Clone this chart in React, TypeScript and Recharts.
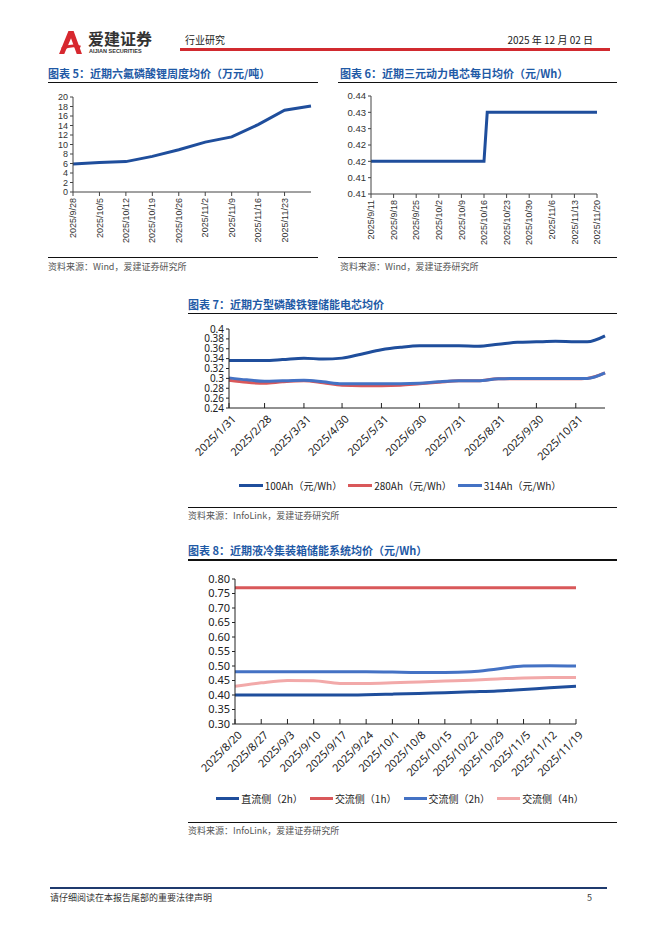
import React from 'react';
import { LineChart, Line, XAxis, YAxis, Legend } from 'recharts';

const CJK = '"Noto Sans CJK SC", "Noto Sans", sans-serif';
const ARIAL = '"Liberation Sans", Arial, sans-serif';
const NOTO = '"Noto Sans", "Noto Sans CJK SC", sans-serif';

// ---------- Chart 5: 六氟磷酸锂周度均价 ----------
const c5Dates = ['2025/9/28', '2025/10/5', '2025/10/12', '2025/10/19', '2025/10/26', '2025/11/2', '2025/11/9', '2025/11/16', '2025/11/23', '2025/11/30'];
const c5Values = [5.9, 6.2, 6.4, 7.5, 8.9, 10.5, 11.6, 14.2, 17.2, 18.1];
const c5TickDates = ['2025/9/28', '2025/10/5', '2025/10/12', '2025/10/19', '2025/10/26', '2025/11/2', '2025/11/9', '2025/11/16', '2025/11/23'];
const c5YTicks = [0, 2, 4, 6, 8, 10, 12, 14, 16, 18, 20];

// ---------- Chart 6: 三元动力电芯每日均价 ----------
const c6Dates = ['2025/9/11', '2025/9/18', '2025/9/25', '2025/10/2', '2025/10/9', '2025/10/16', '2025/10/17', '2025/10/23', '2025/10/30', '2025/11/6', '2025/11/13', '2025/11/20'];
const c6Values = [0.42, 0.42, 0.42, 0.42, 0.42, 0.42, 0.435, 0.435, 0.435, 0.435, 0.435, 0.435];
const c6TickDates = ['2025/9/11', '2025/9/18', '2025/9/25', '2025/10/2', '2025/10/9', '2025/10/16', '2025/10/23', '2025/10/30', '2025/11/6', '2025/11/13', '2025/11/20'];
const c6YTicks = [0.41, 0.415, 0.42, 0.425, 0.43, 0.435, 0.44];
const c6YLabels = ['0.41', '0.41', '0.42', '0.42', '0.43', '0.43', '0.44'];

// ---------- Chart 7: 方型磷酸铁锂储能电芯均价 ----------
const c7Dates = ['2025/1/31', '2025/2/14', '2025/2/28', '2025/3/14', '2025/3/31', '2025/4/15', '2025/4/30', '2025/5/15', '2025/5/31', '2025/6/15', '2025/6/30', '2025/7/15', '2025/7/31', '2025/8/15', '2025/8/31', '2025/9/15', '2025/9/30', '2025/10/15', '2025/10/31', '2025/11/9', '2025/11/23'];
const c7Ah100 = [0.336, 0.336, 0.336, 0.338, 0.341, 0.339, 0.341, 0.349, 0.358, 0.363, 0.366, 0.366, 0.366, 0.365, 0.369, 0.373, 0.374, 0.375, 0.374, 0.374, 0.386];
const c7Ah280 = [0.296, 0.292, 0.290, 0.293, 0.295, 0.291, 0.286, 0.285, 0.285, 0.286, 0.289, 0.292, 0.295, 0.295, 0.299, 0.299, 0.299, 0.299, 0.299, 0.300, 0.311];
const c7Ah314 = [0.301, 0.297, 0.294, 0.295, 0.296, 0.293, 0.289, 0.289, 0.289, 0.289, 0.290, 0.293, 0.295, 0.295, 0.299, 0.300, 0.300, 0.300, 0.300, 0.300, 0.311];
const c7TickDates = ['2025/1/31', '2025/2/28', '2025/3/31', '2025/4/30', '2025/5/31', '2025/6/30', '2025/7/31', '2025/8/31', '2025/9/30', '2025/10/31'];
const c7YTicks = [0.24, 0.26, 0.28, 0.3, 0.32, 0.34, 0.36, 0.38, 0.4];
const c7Names = ['100Ah（元/Wh）', '280Ah（元/Wh）', '314Ah（元/Wh）'];

// ---------- Chart 8: 液冷集装箱储能系统均价 ----------
const c8Dates = ['2025/8/20', '2025/8/27', '2025/9/3', '2025/9/10', '2025/9/17', '2025/9/24', '2025/10/1', '2025/10/8', '2025/10/15', '2025/10/22', '2025/10/29', '2025/11/5', '2025/11/12', '2025/11/19'];
const c8DC2h = [0.40, 0.40, 0.40, 0.40, 0.40, 0.401, 0.403, 0.405, 0.408, 0.411, 0.414, 0.419, 0.425, 0.43];
const c8AC1h = [0.77, 0.77, 0.77, 0.77, 0.77, 0.77, 0.77, 0.77, 0.77, 0.77, 0.77, 0.77, 0.77, 0.77];
const c8AC2h = [0.48, 0.48, 0.48, 0.48, 0.48, 0.48, 0.479, 0.478, 0.478, 0.48, 0.49, 0.50, 0.501, 0.50];
const c8AC4h = [0.43, 0.442, 0.45, 0.449, 0.44, 0.44, 0.442, 0.445, 0.448, 0.451, 0.455, 0.459, 0.46, 0.46];
const c8YTicks = [0.3, 0.35, 0.4, 0.45, 0.5, 0.55, 0.6, 0.65, 0.7, 0.75, 0.8];
const c8Names = ['直流侧（2h）', '交流侧（1h）', '交流侧（2h）', '交流侧（4h）'];

const toDay = (s: string) => {
  const [y, m, d] = s.split('/').map(Number);
  return Date.UTC(y, m - 1, d) / 86400000;
};

const c5Data = c5Dates.map((d, i) => ({ t: toDay(d), v: c5Values[i] }));
const c6Data = c6Dates.map((d, i) => ({ t: toDay(d), v: c6Values[i] }));
const c7Data = c7Dates.map((d, i) => ({ t: toDay(d), a: c7Ah100[i], b: c7Ah280[i], c: c7Ah314[i] }));
const c8Data = c8Dates.map((d, i) => ({ d, a: c8DC2h[i], b: c8AC1h[i], c: c8AC2h[i], e: c8AC4h[i] }));

const DARK = '#1f4e9c';
const RED = '#d9585a';
const MID = '#4472c4';
const PINK = '#f2a9a9';
const TITLE = '#1f5aa6';

const VertTick = (props: any) => {
  const { x, y, payload, labels, ticks } = props;
  const idx = ticks.indexOf(payload.value);
  const label = idx >= 0 ? labels[idx] : '';
  return (
    <text x={x} y={y} transform={`rotate(-90, ${x}, ${y})`} textAnchor="end" dy="0.35em"
      fontSize={9} fill="#333" fontFamily={ARIAL}>{label}</text>
  );
};

const SlantTick = (props: any) => {
  const { x, y, payload, labelOf } = props;
  const label = labelOf(payload.value);
  const tx = x + 5;
  const ty = y + 9;
  return (
    <g>
      <line x1={x} y1={y} x2={x} y2={y - 5} stroke="#222" strokeWidth={1} />
      <text x={tx} y={ty} transform={`rotate(-45, ${tx}, ${ty})`} textAnchor="end" dy="0.35em"
        fontSize={11} fill="#222" fontFamily={NOTO}>{label}</text>
    </g>
  );
};

const makeLegend = (order: string[], lineW: number, gap: number) => (props: any) => {
  const items = [...(props.payload || [])].sort((p: any, q: any) => order.indexOf(p.value) - order.indexOf(q.value));
  return (
    <div style={{ display: 'flex', justifyContent: 'center', alignItems: 'center', gap }}>
      {items.map((p: any, i: number) => (
        <div key={i} style={{ display: 'flex', alignItems: 'center' }}>
          <span style={{ display: 'inline-block', width: lineW, height: 3, background: p.color, marginRight: 2 }} />
          <span style={{ fontSize: 10, fontFamily: CJK, color: '#222', whiteSpace: 'nowrap' }}>{p.value}</span>
        </div>
      ))}
    </div>
  );
};
const Legend7 = makeLegend(c7Names, 24, 6);
const Legend8 = makeLegend(c8Names, 23, 7);

const Txt = ({ x, y, size, color, weight, children, right, family }: any) => (
  <div style={{
    position: 'absolute', top: y, left: right ? undefined : x, right: right ? 662 - x : undefined,
    transform: 'translateY(-50%)', fontSize: size, lineHeight: 1, color: color || '#222',
    fontWeight: weight || 400, whiteSpace: 'nowrap', fontFamily: family || CJK,
  }}>{children}</div>
);

const HLine = ({ x1, x2, y, color, w }: any) => (
  <div style={{ position: 'absolute', left: x1, top: y - (w || 1) / 2, width: x2 - x1, height: w || 1, background: color || '#000' }} />
);

const c5TickDays = c5TickDates.map(toDay);
const c6TickDays = c6TickDates.map(toDay);
const c7TickDays = c7TickDates.map(toDay);
const fmt2 = (v: number) => String(+v.toFixed(2));

export default function App() {
  return (
    <div style={{ position: 'absolute', left: 0, top: 0, width: 662, height: 936, background: '#fff', overflow: 'hidden', fontFamily: CJK }}>
      {/* Header */}
      <svg style={{ position: 'absolute', left: 57, top: 30 }} width={27} height={25} viewBox="0 0 24 24">
        <path d="M1 23 L10 1 L15 1 L23 23 L18 23 L12.5 8 L6 23 Z" fill="#d7282f" />
        <path d="M3 17 Q12 12 22 15 L21 17.5 Q12 15 4.5 19.5 Z" fill="#d7282f" />
      </svg>
      <Txt x={88} y={37.5} size={16} weight={700} color="#333">爱建证券</Txt>
      <Txt x={89} y={51.5} size={5.5} weight={700} color="#333" family={ARIAL}>AIJIAN SECURITIES</Txt>
      <Txt x={185} y={40} size={10} color="#222">行业研究</Txt>
      <Txt x={593} y={40} size={10} color="#222" right>2025 年 12 月 02 日</Txt>
      <HLine x1={180} x2={610} y={49.5} color="#d12a2f" w={3} />

      {/* Chart 5 */}
      <Txt x={48} y={73} size={11} weight={700} color={TITLE}>图表 5：近期六氟磷酸锂周度均价（万元/吨）</Txt>
      <HLine x1={48} x2={318} y={82.5} color="#111" w={1.2} />
      <div style={{ position: 'absolute', left: 40, top: 85 }}>
        <LineChart width={280} height={170} data={c5Data} margin={{ top: 12, right: 9, bottom: 5, left: 0 }}>
          <XAxis dataKey="t" type="number" domain={[toDay('2025/9/28'), toDay('2025/11/30')]} ticks={c5TickDays}
            interval={0} height={58} stroke="#444" tickSize={4} tickMargin={2}
            tick={(p: any) => <VertTick {...p} labels={c5TickDates} ticks={c5TickDays} />} />
          <YAxis width={33} domain={[0, 20]} ticks={c5YTicks} interval={0} stroke="#444" tickSize={3} tickMargin={2}
            tick={{ fontSize: 9, fill: '#333', fontFamily: ARIAL }} />
          <Line dataKey="v" stroke={DARK} strokeWidth={3} dot={false} activeDot={false} isAnimationActive={false} />
        </LineChart>
      </div>
      <HLine x1={48} x2={318} y={257} color="#111" w={1} />
      <Txt x={48} y={265.5} size={9} color="#555">资料来源：Wind，爱建证券研究所</Txt>

      {/* Chart 6 */}
      <Txt x={340} y={73} size={11} weight={700} color={TITLE}>图表 6：近期三元动力电芯每日均价（元/Wh）</Txt>
      <HLine x1={338} x2={617} y={82.5} color="#111" w={1.2} />
      <div style={{ position: 'absolute', left: 330, top: 85 }}>
        <LineChart width={290} height={170} data={c6Data} margin={{ top: 11, right: 23, bottom: 5, left: 0 }}>
          <XAxis dataKey="t" type="number" domain={[toDay('2025/9/11'), toDay('2025/11/20')]} ticks={c6TickDays}
            interval={0} height={56} stroke="#444" tickSize={4} tickMargin={2}
            tick={(p: any) => <VertTick {...p} labels={c6TickDates} ticks={c6TickDays} />} />
          <YAxis width={41} domain={[0.41, 0.44]} ticks={c6YTicks} interval={0} stroke="#444" tickSize={3} tickMargin={2}
            tickFormatter={(v: number, i: number) => c6YLabels[i]}
            tick={{ fontSize: 9.5, fill: '#333', fontFamily: ARIAL }} />
          <Line dataKey="v" stroke={DARK} strokeWidth={3} dot={false} activeDot={false} isAnimationActive={false} />
        </LineChart>
      </div>
      <HLine x1={338} x2={617} y={257} color="#111" w={1} />
      <Txt x={340} y={265.5} size={9} color="#555">资料来源：Wind，爱建证券研究所</Txt>

      {/* Chart 7 */}
      <Txt x={188} y={304} size={11} weight={700} color={TITLE}>图表 7：近期方型磷酸铁锂储能电芯均价</Txt>
      <HLine x1={188} x2={617} y={313.5} color="#111" w={1.2} />
      <div style={{ position: 'absolute', left: 180, top: 320 }}>
        <LineChart width={440} height={180} data={c7Data} margin={{ top: 9, right: 15, bottom: 32, left: 0 }}>
          <XAxis dataKey="t" type="number" domain={[toDay('2025/1/31'), toDay('2025/11/23')]} ticks={c7TickDays}
            interval={0} height={60} stroke="#222" tickLine={false} tickSize={0} tickMargin={0}
            tick={(p: any) => <SlantTick {...p} labelOf={(v: number) => c7TickDates[c7TickDays.indexOf(v)] || ''} />} />
          <YAxis width={49} domain={[0.24, 0.4]} ticks={c7YTicks} interval={0} stroke="#222" tickSize={3} tickMargin={2}
            tickFormatter={fmt2} tick={{ fontSize: 10, fill: '#222', fontFamily: NOTO }} />
          <Legend layout="horizontal" verticalAlign="middle" align="center" content={Legend7}
            wrapperStyle={{ top: 158, left: 0, width: 440 }} />
          <Line name={c7Names[0]} type="monotone" dataKey="a" stroke={DARK} strokeWidth={3} dot={false} activeDot={false} isAnimationActive={false} />
          <Line name={c7Names[1]} type="monotone" dataKey="b" stroke={RED} strokeWidth={3} dot={false} activeDot={false} isAnimationActive={false} />
          <Line name={c7Names[2]} type="monotone" dataKey="c" stroke={MID} strokeWidth={3} dot={false} activeDot={false} isAnimationActive={false} />
        </LineChart>
      </div>
      <HLine x1={188} x2={617} y={507} color="#111" w={1} />
      <Txt x={188} y={515} size={9} color="#555">资料来源：InfoLink，爱建证券研究所</Txt>

      {/* Chart 8 */}
      <Txt x={188} y={550} size={11} weight={700} color={TITLE}>图表 8：近期液冷集装箱储能系统均价（元/Wh）</Txt>
      <HLine x1={188} x2={617} y={560} color="#111" w={1.2} />
      <div style={{ position: 'absolute', left: 180, top: 568 }}>
        <LineChart width={440} height={245} data={c8Data} margin={{ top: 11, right: 44, bottom: 27, left: 0 }}>
          <XAxis dataKey="d" interval={0} height={62} stroke="#222" tickLine={false} tickSize={0} tickMargin={0}
            tick={(p: any) => <SlantTick {...p} labelOf={(v: string) => v} />} />
          <YAxis width={55} domain={[0.3, 0.8]} ticks={c8YTicks} interval={0} stroke="#222" tickSize={3} tickMargin={2}
            tickFormatter={(v: number) => v.toFixed(2)} tick={{ fontSize: 11, fill: '#222', fontFamily: NOTO }} />
          <Legend layout="horizontal" verticalAlign="middle" align="center" content={Legend8}
            wrapperStyle={{ top: 223, left: 0, width: 440 }} />
          <Line name={c8Names[0]} type="monotone" dataKey="a" stroke={DARK} strokeWidth={3} dot={false} activeDot={false} isAnimationActive={false} />
          <Line name={c8Names[1]} type="monotone" dataKey="b" stroke={RED} strokeWidth={3} dot={false} activeDot={false} isAnimationActive={false} />
          <Line name={c8Names[2]} type="monotone" dataKey="c" stroke={MID} strokeWidth={3} dot={false} activeDot={false} isAnimationActive={false} />
          <Line name={c8Names[3]} type="monotone" dataKey="e" stroke={PINK} strokeWidth={3} dot={false} activeDot={false} isAnimationActive={false} />
        </LineChart>
      </div>
      <HLine x1={188} x2={617} y={822} color="#111" w={1} />
      <Txt x={188} y={830} size={9} color="#555">资料来源：InfoLink，爱建证券研究所</Txt>

      {/* Footer */}
      <HLine x1={50} x2={607} y={888} color="#1f3a6e" w={1.2} />
      <Txt x={50} y={897} size={9} color="#333">请仔细阅读在本报告尾部的重要法律声明</Txt>
      <Txt x={592} y={897} size={9} color="#333" right>5</Txt>
    </div>
  );
}
